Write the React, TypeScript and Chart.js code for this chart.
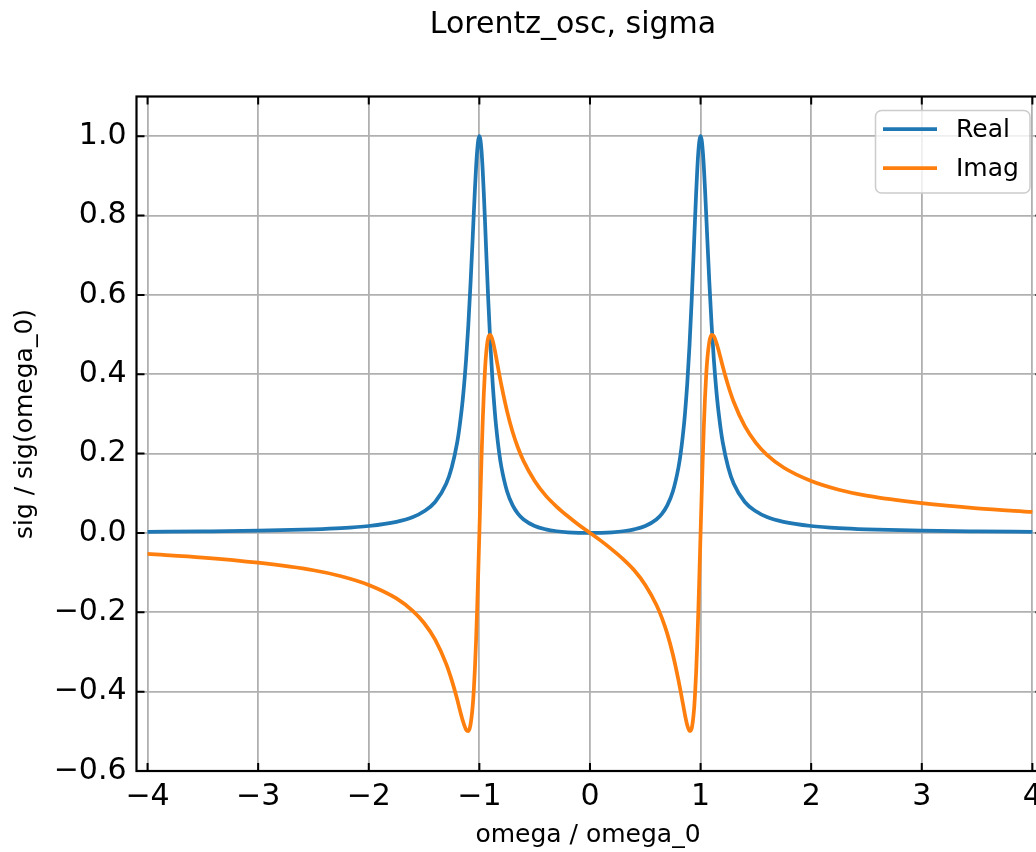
import React, { useEffect, useRef } from "react";
import { Chart, registerables } from "chart.js";

Chart.register(...registerables);

const TITLE = "Lorentz_osc, sigma";
const X_LABEL = "omega / omega_0";
const Y_LABEL = "sig / sig(omega_0)";
const SERIES_NAMES = ["Real", "Imag"];
const SERIES_COLORS = ["#1f77b4", "#ff7f0e"];

const omega = [
  -4.0, -3.5, -3.0, -2.5, -2.25, -2.0, -1.75, -1.6, -1.5, -1.4, -1.3, -1.25, -1.2, -1.18, -1.15, -1.12,
  -1.1, -1.08, -1.06, -1.05, -1.04, -1.03, -1.02, -1.01, -1.0, -0.99, -0.98, -0.97, -0.96, -0.95, -0.94,
  -0.92, -0.9, -0.88, -0.86, -0.85, -0.82, -0.8, -0.75, -0.7, -0.65, -0.6, -0.5, -0.4, -0.3, -0.2, -0.1,
  0.0,
  0.1, 0.2, 0.3, 0.4, 0.5, 0.6, 0.65, 0.7, 0.75, 0.8, 0.82, 0.85, 0.86, 0.88, 0.9, 0.92, 0.94, 0.95,
  0.96, 0.97, 0.98, 0.99, 1.0, 1.01, 1.02, 1.03, 1.04, 1.05, 1.06, 1.08, 1.1, 1.12, 1.15, 1.18, 1.2,
  1.25, 1.3, 1.4, 1.5, 1.6, 1.75, 2.0, 2.25, 2.5, 3.0, 3.5, 4.0,
];

const realPart = [
  0.0028, 0.0039, 0.0056, 0.009, 0.012, 0.0175, 0.028, 0.04, 0.0545, 0.078, 0.124, 0.165, 0.229, 0.266, 0.337, 0.437,
  0.523, 0.628, 0.746, 0.808, 0.867, 0.92, 0.962, 0.99, 1.0, 0.99, 0.961, 0.915, 0.857, 0.792, 0.723,
  0.589, 0.473, 0.378, 0.304, 0.273, 0.2, 0.165, 0.105, 0.07, 0.048, 0.034, 0.0175, 0.009, 0.0043, 0.0017, 0.0004,
  0.0,
  0.0004, 0.0017, 0.0043, 0.009, 0.0175, 0.034, 0.048, 0.07, 0.105, 0.165, 0.2, 0.273, 0.304, 0.378, 0.473, 0.589, 0.723, 0.792,
  0.857, 0.915, 0.961, 0.99, 1.0, 0.99, 0.962, 0.92, 0.867, 0.808, 0.746, 0.628, 0.523, 0.437, 0.337, 0.266, 0.229,
  0.165, 0.124, 0.078, 0.0545, 0.04, 0.028, 0.0175, 0.012, 0.009, 0.0056, 0.0039, 0.0028,
];

const imagPart = [
  -0.053, -0.062, -0.075, -0.094, -0.109, -0.131, -0.165, -0.197, -0.227, -0.269, -0.33, -0.371, -0.42, -0.442, -0.473, -0.496,
  -0.4995, -0.483, -0.435, -0.394, -0.34, -0.272, -0.191, -0.0985, 0.0, 0.0995, 0.194, 0.279, 0.35, 0.406, 0.448,
  0.492, 0.499, 0.485, 0.46, 0.445, 0.4, 0.371, 0.307, 0.255, 0.214, 0.181, 0.131, 0.094, 0.066, 0.042, 0.02,
  0.0,
  -0.02, -0.042, -0.066, -0.094, -0.131, -0.181, -0.214, -0.255, -0.307, -0.371, -0.4, -0.445, -0.46, -0.485, -0.499, -0.492, -0.448, -0.406,
  -0.35, -0.279, -0.194, -0.0995, 0.0, 0.0985, 0.191, 0.272, 0.34, 0.394, 0.435, 0.483, 0.4995, 0.496, 0.473, 0.442, 0.42,
  0.371, 0.33, 0.269, 0.227, 0.197, 0.165, 0.131, 0.109, 0.094, 0.075, 0.062, 0.053,
];

const xTicks = [-4, -3, -2, -1, 0, 1, 2, 3, 4];
const yTicks = [-0.6, -0.4, -0.2, 0.0, 0.2, 0.4, 0.6, 0.8, 1.0];

const FONT = '"DejaVu Sans", sans-serif';

function fmt(v: number, digits: number) {
  const r = Math.abs(v) < 1e-9 ? 0 : v;
  const s = r.toFixed(digits);
  return s.startsWith("-") ? "\u2212" + s.slice(1) : s;
}

const decorPlugin = {
  id: "decor",
  afterDraw(chart: any) {
    const { ctx, chartArea: a, scales } = chart;
    const xs = scales.x;
    const ys = scales.y;
    ctx.save();
    // inward ticks on all four sides
    ctx.strokeStyle = "#000";
    ctx.lineWidth = 2;
    const tl = 8;
    ctx.beginPath();
    for (const v of xTicks) {
      const px = xs.getPixelForValue(v);
      ctx.moveTo(px, a.bottom);
      ctx.lineTo(px, a.bottom - tl);
      ctx.moveTo(px, a.top);
      ctx.lineTo(px, a.top + tl);
    }
    for (const v of yTicks) {
      const py = ys.getPixelForValue(v);
      ctx.moveTo(a.left, py);
      ctx.lineTo(a.left + tl, py);
      ctx.moveTo(a.right, py);
      ctx.lineTo(a.right - tl, py);
    }
    ctx.stroke();
    // frame
    ctx.lineWidth = 2.2;
    ctx.strokeRect(a.left, a.top, a.right - a.left, a.bottom - a.top);

    // legend
    const lx = 875.5, ly = 110.5, lw = 154.5, lh = 82.5, r = 6;
    ctx.beginPath();
    ctx.moveTo(lx + r, ly);
    ctx.lineTo(lx + lw - r, ly);
    ctx.arcTo(lx + lw, ly, lx + lw, ly + r, r);
    ctx.lineTo(lx + lw, ly + lh - r);
    ctx.arcTo(lx + lw, ly + lh, lx + lw - r, ly + lh, r);
    ctx.lineTo(lx + r, ly + lh);
    ctx.arcTo(lx, ly + lh, lx, ly + lh - r, r);
    ctx.lineTo(lx, ly + r);
    ctx.arcTo(lx, ly, lx + r, ly, r);
    ctx.closePath();
    ctx.fillStyle = "rgba(255,255,255,0.8)";
    ctx.fill();
    ctx.strokeStyle = "#cccccc";
    ctx.lineWidth = 1.5;
    ctx.stroke();
    const rows = [129, 168];
    ctx.font = `25px ${FONT}`;
    ctx.textAlign = "left";
    ctx.textBaseline = "middle";
    SERIES_NAMES.forEach((name, i) => {
      ctx.strokeStyle = SERIES_COLORS[i];
      ctx.lineWidth = 3.75;
      ctx.beginPath();
      ctx.moveTo(883, rows[i]);
      ctx.lineTo(937, rows[i]);
      ctx.stroke();
      ctx.fillStyle = "#000";
      ctx.fillText(name, 956, rows[i] + 1);
    });

    // title
    ctx.font = `30px ${FONT}`;
    ctx.textAlign = "center";
    ctx.textBaseline = "alphabetic";
    ctx.fillStyle = "#000";
    ctx.fillText(TITLE, 573, 33);

    // axis titles
    ctx.font = `25px ${FONT}`;
    ctx.textBaseline = "middle";
    ctx.fillText(X_LABEL, 588, 835);
    ctx.translate(25, 424);
    ctx.rotate(-Math.PI / 2);
    ctx.fillText(Y_LABEL, 0, 0);
    ctx.restore();
  },
};

export default function App() {
  const ref = useRef<HTMLCanvasElement | null>(null);
  useEffect(() => {
    if (!ref.current) return;
    const chart = new Chart(ref.current, {
      type: "line",
      data: {
        datasets: [
          {
            label: SERIES_NAMES[0],
            data: omega.map((x, i) => ({ x, y: realPart[i] })),
            borderColor: SERIES_COLORS[0],
            borderWidth: 3.75,
            pointRadius: 0,
            cubicInterpolationMode: "monotone",
            order: 1,
          },
          {
            label: SERIES_NAMES[1],
            data: omega.map((x, i) => ({ x, y: imagPart[i] })),
            borderColor: SERIES_COLORS[1],
            borderWidth: 3.75,
            pointRadius: 0,
            cubicInterpolationMode: "monotone",
            order: 0,
          },
        ],
      },
      options: {
        responsive: false,
        maintainAspectRatio: false,
        devicePixelRatio: 1,
        animation: false,
        layout: { padding: { left: 0, top: 96.5, right: 6, bottom: 0 } },
        plugins: {
          legend: { display: false },
          tooltip: { enabled: false },
          title: { display: false },
        },
        scales: {
          x: {
            type: "linear",
            min: -4.1,
            max: 4.1,
            afterBuildTicks: (s: any) => {
              s.ticks = xTicks.map((v) => ({ value: v }));
            },
            afterFit: (s: any) => {
              s.height = 81;
            },
            grid: { color: "#b0b0b0", lineWidth: 1.8, drawTicks: false },
            border: { display: false },
            ticks: {
              font: { family: FONT, size: 30 },
              color: "#000",
              padding: 8,
              maxRotation: 0,
              autoSkip: false,
              callback: (v: any) => fmt(Number(v), 0),
            },
          },
          y: {
            type: "linear",
            min: -0.6,
            max: 1.1,
            afterBuildTicks: (s: any) => {
              s.ticks = yTicks.map((v) => ({ value: v }));
            },
            afterFit: (s: any) => {
              s.width = 136.5;
            },
            grid: { color: "#b0b0b0", lineWidth: 1.8, drawTicks: false },
            border: { display: false },
            ticks: {
              font: { family: FONT, size: 30 },
              color: "#000",
              padding: 10,
              autoSkip: false,
              callback: (v: any) => fmt(Number(v), 1),
            },
          },
        },
      },
      plugins: [decorPlugin],
    });
    return () => chart.destroy();
  }, []);
  return (
    <canvas
      ref={ref}
      width={1050}
      height={852}
      style={{ position: "fixed", left: 0, top: 0, width: 1050, height: 852, display: "block" }}
    />
  );
}
